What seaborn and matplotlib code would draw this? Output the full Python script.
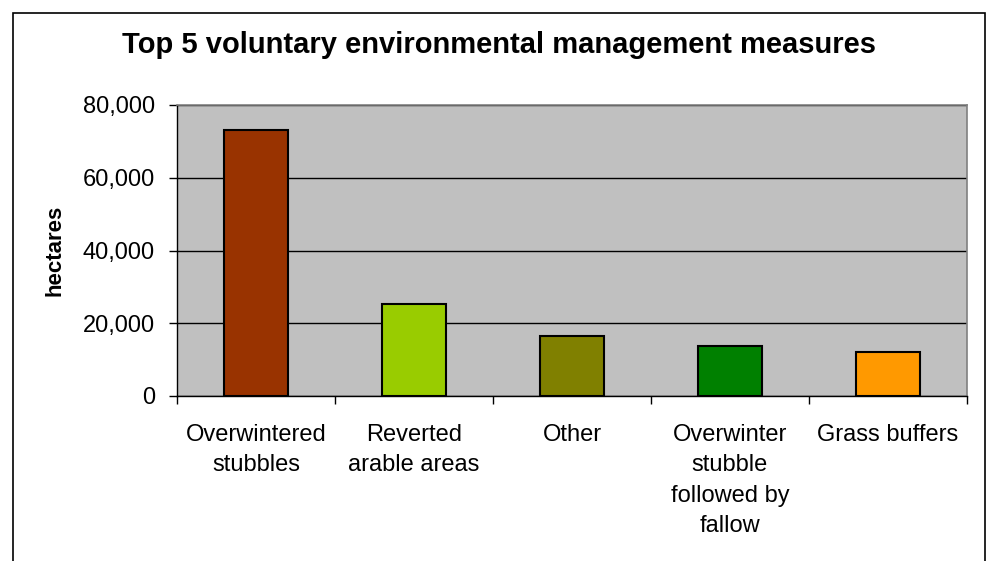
import matplotlib
matplotlib.use("Agg")
import matplotlib.pyplot as plt
import matplotlib.ticker as mticker
from matplotlib.patches import Rectangle
import seaborn as sns

# data
categories = [
    "Overwintered\nstubbles",
    "Reverted\narable areas",
    "Other",
    "Overwinter\nstubble\nfollowed by\nfallow",
    "Grass buffers",
]
hectares = [73100, 25400, 16400, 13700, 12000]
bar_colors = ["#993300", "#99CC00", "#808000", "#008000", "#FF9900"]
y_ticks = [0, 20000, 40000, 60000, 80000]

sns.set_style("white")
plt.rcParams["font.family"] = ["Liberation Sans", "DejaVu Sans"]
plt.rcParams.update({
    "text.color": "black",
    "axes.labelcolor": "black",
    "xtick.color": "black",
    "ytick.color": "black",
})

fig = plt.figure(figsize=(9.89, 5.61), dpi=100)
ax = fig.add_axes([177 / 989, 1 - 396 / 561, 790 / 989, 291 / 561])
ax.set_facecolor("#C0C0C0")

sns.barplot(
    x=categories, y=hectares, hue=categories, palette=bar_colors,
    width=0.4, edgecolor="black", linewidth=1.5, legend=False, ax=ax,
    saturation=1,
)

ax.set_xlim(-0.5, len(categories) - 0.5)
ax.set_ylim(0, 80000)
ax.set_yticks(y_ticks)
ax.yaxis.set_major_formatter(mticker.FuncFormatter(lambda v, p: f"{int(v):,}"))
ax.yaxis.grid(True, color="black", linewidth=1)
ax.set_axisbelow(True)

# ticks at the category boundaries, labels in the middle
ax.set_xticks(range(len(categories)))
ax.set_xticks([i - 0.5 for i in range(len(categories) + 1)], minor=True)
ax.tick_params(axis="x", which="major", length=0, pad=20, labelsize=17)
ax.tick_params(axis="x", which="minor", length=6, width=1,
               direction="out", bottom=True)
ax.tick_params(axis="y", length=6, width=1, direction="out",
               left=True, pad=10, labelsize=17)
for lab in ax.get_xticklabels():
    lab.set_linespacing(1.5)

for side in ["left", "bottom"]:
    ax.spines[side].set_color("black")
    ax.spines[side].set_linewidth(1)
for side in ["top", "right"]:
    ax.spines[side].set_color("#808080")
    ax.spines[side].set_linewidth(1.2)

ax.set_xlabel("")
ax.set_ylabel("hectares", fontsize=16, fontweight="bold", labelpad=12)

fig.text(499 / 989, 1 - 45 / 561, "Top 5 voluntary environmental management measures",
         ha="center", va="center", fontsize=21, fontweight="bold")

# chart-area border, bottom edge is off the image
fig.patches.append(Rectangle((13 / 989, -0.1), 972 / 989, 1.1 - 13 / 561,
                             transform=fig.transFigure, fill=False,
                             edgecolor="black", linewidth=1.2))

fig.savefig("out.png", dpi=100)
